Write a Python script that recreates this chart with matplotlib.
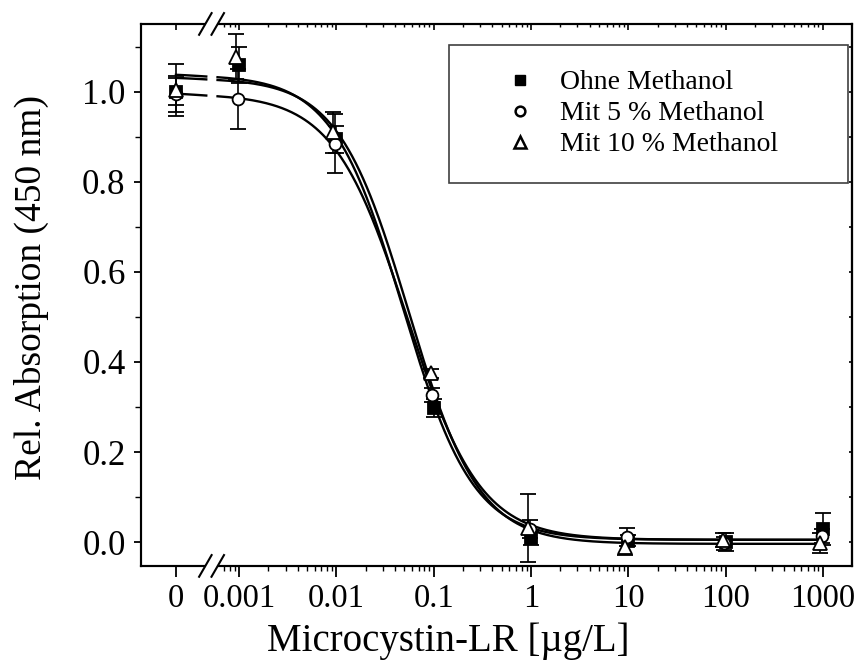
import numpy as np
import matplotlib
matplotlib.use("Agg")
import matplotlib.pyplot as plt
from matplotlib.lines import Line2D
from matplotlib.patches import Rectangle
from matplotlib.ticker import FixedLocator, FixedFormatter, NullFormatter

plt.rcParams["font.family"] = ["Liberation Serif", "DejaVu Serif"]

# Concentrations (µg/L); 0 is the blank, shown left of the axis break
conc = [0, 0.001, 0.01, 0.1, 1, 10, 100, 1000]

# Relative absorption (450 nm) and standard deviations
ohne_y   = [1.000, 1.060, 0.895, 0.298, 0.009, 0.003, 0.000, 0.029]
ohne_err = [0.030, 0.040, 0.030, 0.020, 0.015, 0.012, 0.020, 0.035]
m5_y     = [0.995, 0.984, 0.885, 0.327, 0.030, 0.011, -0.003, 0.013]
m5_err   = [0.040, 0.066, 0.065, 0.015, 0.020, 0.020, 0.015, 0.015]
m10_y    = [1.004, 1.078, 0.910, 0.375, 0.031, -0.011, 0.004, -0.002]
m10_err  = [0.058, 0.050, 0.045, 0.010, 0.076, 0.018, 0.016, 0.022]

# Four-parameter logistic fits: top, bottom, IC50, Hill slope
ohne_fit = (1.038, 0.005, 0.048, 1.20)
m5_fit   = (0.996, 0.005, 0.053, 1.15)
m10_fit  = (1.031, -0.004, 0.055, 1.20)

labels = ["Ohne Methanol", "Mit 5 % Methanol", "Mit 10 % Methanol"]
xtick_vals = [0, 0.001, 0.01, 0.1, 1, 10, 100, 1000]
xtick_labels = ["0", "0.001", "0.01", "0.1", "1", "10", "100", "1000"]

# Broken x axis: log10 above XT, linear stretch from 0 up to XT
U0 = -3.65
XT = 5e-4
LT = np.log10(XT)


def fwd(x):
    x = np.asarray(x, dtype=float)
    lin = U0 + (x / XT) * (LT - U0)
    lg = np.log10(np.maximum(x, 1e-30))
    return np.where(x >= XT, lg, lin)


def inv(u):
    u = np.asarray(u, dtype=float)
    lin = (u - U0) / (LT - U0) * XT
    return np.where(u >= LT, 10.0 ** u, lin)


def logistic(x, p):
    top, bottom, c, h = p
    x = np.asarray(x, dtype=float)
    return bottom + (top - bottom) / (1.0 + (x / c) ** h)


fig = plt.figure(figsize=(8.59, 6.65), dpi=100)
ax = fig.add_axes([0.164, 0.149, 0.828, 0.815])
ax.set_xscale("function", functions=(fwd, inv))
xlim = (float(inv(-4.01)), float(inv(3.30)))
ax.set_xlim(*xlim)
ax.set_ylim(-0.053, 1.151)

U_BREAK = -3.28
GAP = 0.058
x_left = np.linspace(0, float(inv(U_BREAK - GAP)), 60)
x_right = np.logspace(float(U_BREAK + GAP), np.log10(1000), 500)

series = [
    (ohne_y, ohne_err, ohne_fit, "s", "black", 1.0, 8.5),
    (m5_y, m5_err, m5_fit, "o", "white", 0.97, 8.5),
    (m10_y, m10_err, m10_fit, "^", "white", 0.93, 9.5),
]

for yv, ev, fit, mk, fc, k, ms in series:
    for xs in (x_left, x_right):
        ax.plot(xs, logistic(xs, fit), color="black", lw=1.7, zorder=2)
    xv = [c * k for c in conc]
    ax.errorbar(xv, yv, yerr=ev, fmt=mk, mfc=fc, mec="black", mew=1.3,
                ms=ms, ecolor="black", elinewidth=1.2,
                capsize=6, capthick=1.2, zorder=3)

# ticks
minor = [m * 1e-4 for m in (7, 8, 9)]
for d in range(-3, 3):
    minor += [m * 10.0 ** d for m in range(2, 10)]

ax.xaxis.set_major_locator(FixedLocator(xtick_vals))
ax.xaxis.set_major_formatter(FixedFormatter(xtick_labels))
ax.xaxis.set_minor_locator(FixedLocator(minor))
ax.yaxis.set_major_locator(FixedLocator(np.arange(0, 1.01, 0.2)))
ax.yaxis.set_minor_locator(FixedLocator(np.arange(-0.0, 1.11, 0.1)))
ax.set_yticklabels(["0.0", "0.2", "0.4", "0.6", "0.8", "1.0"])

ax.tick_params(axis="x", which="major", direction="out", length=8, width=1.3,
               labelsize=23.5, pad=5)
ax.tick_params(axis="x", which="minor", direction="out", length=3.5, width=1.0)
ax.tick_params(axis="y", which="major", direction="out", length=5, width=1.3,
               labelsize=25, pad=6)
ax.tick_params(axis="y", which="minor", direction="out", length=4, width=1.0)

for sp in ax.spines.values():
    sp.set_linewidth(1.5)

# top axis with inward ticks on the same broken scale
axt = ax.twiny()
axt.set_xscale("function", functions=(fwd, inv))
axt.set_xlim(*xlim)
axt.xaxis.set_major_locator(FixedLocator(xtick_vals))
axt.xaxis.set_minor_locator(FixedLocator(minor))
axt.xaxis.set_major_formatter(NullFormatter())
axt.tick_params(which="major", direction="in", length=4, width=1.2, labeltop=False)
axt.tick_params(which="minor", direction="in", length=2.5, width=1.0)
for sp in axt.spines.values():
    sp.set_linewidth(1.5)

# right axis with inward ticks
axr = ax.secondary_yaxis("right")
axr.yaxis.set_major_locator(FixedLocator(np.arange(-0.0, 1.11, 0.1)))
axr.tick_params(which="major", direction="in", length=2.5, width=1.2, labelright=False)
axr.spines["right"].set_linewidth(1.5)

# axis break marks on bottom and top spines
fig.canvas.draw()
xb = ax.transAxes.inverted().transform(ax.transData.transform((float(inv(U_BREAK)), 0)))[0]
bw = 0.0085
for yb in (0.0, 1.0):
    axt.add_patch(Rectangle((xb - bw, yb - 0.01), 2 * bw, 0.02, transform=ax.transAxes,
                            facecolor="white", edgecolor="none", clip_on=False, zorder=10))
    for dx in (-0.0092, 0.0082):
        axt.plot([xb + dx - 0.0088, xb + dx + 0.0088], [yb - 0.02, yb + 0.02],
                 transform=ax.transAxes, color="black", lw=1.5, clip_on=False, zorder=11)

ax.set_xlabel("Microcystin-LR [µg/L]", fontsize=28)
ax.xaxis.set_label_coords(0.432, -0.105)
ax.set_ylabel("Rel. Absorption (450 nm)", fontsize=27)
ax.yaxis.set_label_coords(-0.129, 0.513)

# legend: entries plus a separate frame
handles = [
    Line2D([], [], ls="none", marker="s", mfc="black", mec="black", ms=7),
    Line2D([], [], ls="none", marker="o", mfc="white", mec="black", mew=1.8, ms=7),
    Line2D([], [], ls="none", marker="^", mfc="white", mec="black", mew=1.8, ms=8),
]
axt.legend(handles, labels, loc="upper left", bbox_to_anchor=(0.513, 0.915),
           bbox_transform=ax.transAxes,
           fontsize=20, frameon=False, borderpad=0, handlelength=1.0,
           handletextpad=0.94, labelspacing=0.2, borderaxespad=0)
axt.add_patch(Rectangle((0.4332, 0.7066), 0.5612, 0.2546, transform=ax.transAxes,
                        facecolor="none", edgecolor="#404040", lw=1.2, zorder=5))

fig.savefig("out.png", dpi=100)
